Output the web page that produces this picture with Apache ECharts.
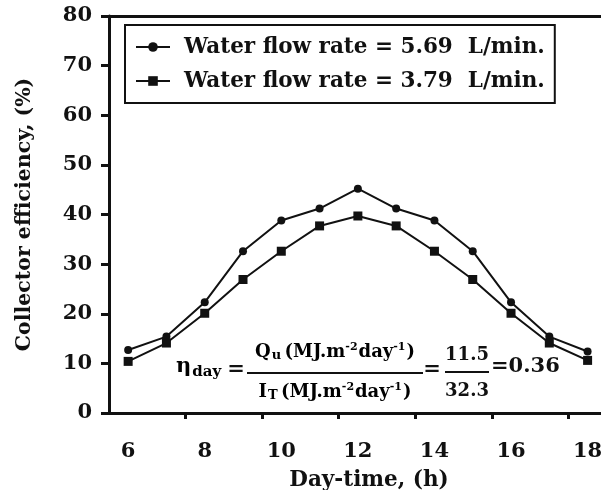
<!DOCTYPE html>
<html>
<head>
<meta charset="utf-8">
<script src="https://cdn.jsdelivr.net/npm/echarts@6/dist/echarts.min.js"></script>
<style>
  html, body { margin: 0; padding: 0; background: #fff; }
  #chart { width: 601px; height: 490px; }
</style>
</head>
<body>
<div id="chart"></div>
<script>
// Hourly collector efficiency (%) for two water flow rates
const hours = [6, 7, 8, 9, 10, 11, 12, 13, 14, 15, 16, 17, 18];
const effFlow569 = [12.7, 15.4, 22.3, 32.6, 38.8, 41.2, 45.2, 41.2, 38.8, 32.6, 22.3, 15.4, 12.4];
const effFlow379 = [10.4, 14.1, 20.1, 26.9, 32.6, 37.7, 39.7, 37.7, 32.6, 26.9, 20.1, 14.1, 10.6];
const seriesNames = ['Water flow rate = 5.69  L/min.', 'Water flow rate = 3.79  L/min.'];
const xLabelValues = [6, 8, 10, 12, 14, 16, 18];
const xTickValues = [7.5, 9.5, 11.5, 13.5, 15.5, 17.5];

const SERIF = "'DejaVu Serif', 'Liberation Serif', serif";
const chart = echarts.init(document.getElementById('chart'), null, { renderer: 'canvas' });

const pair = (ys) => hours.map((h, i) => [h, ys[i]]);

const sub = { fontSize: 13, fontWeight: 'bold', fontFamily: SERIF, color: '#111', verticalAlign: 'bottom', padding: [7, 0, 0, 1] };
const sup = { fontSize: 11, fontWeight: 'bold', fontFamily: SERIF, color: '#111', verticalAlign: 'top', padding: [0, 1, 8, 0] };
const main = { fontSize: 18, fontWeight: 'bold', fontFamily: SERIF, color: '#111' };
const fracRich = { m: main, sb: sub, sp: sup };

chart.setOption({
  animation: false,
  backgroundColor: '#fff',
  grid: { left: 109, right: 0, top: 16, bottom: 77, containLabel: false, outerBoundsMode: 'none' },
  legend: {
    orient: 'vertical',
    left: 125,
    top: 25,
    padding: [11, 10, 11, 10],
    itemGap: 12,
    itemWidth: 34,
    itemHeight: 12,
    borderColor: '#111',
    borderWidth: 2,
    backgroundColor: '#fff',
    textStyle: { fontFamily: SERIF, fontWeight: 'bold', fontSize: 21.5, color: '#111', padding: [0, 0, 0, 9] },
    data: seriesNames
  },
  xAxis: [
    {
      type: 'value',
      min: 5.5,
      max: 18.35,
      name: 'Day-time, (h)',
      nameLocation: 'middle',
      nameGap: 56,
      nameTextStyle: { fontFamily: SERIF, fontWeight: 'bold', fontSize: 21.5, color: '#111', padding: [0, 0, 0, 28] },
      axisLine: { lineStyle: { color: '#111', width: 3 } },
      axisTick: { show: true, length: 6, lineStyle: { color: '#111', width: 3 }, customValues: xTickValues },
      axisLabel: { customValues: xLabelValues, margin: 28, fontFamily: SERIF, fontWeight: 'bold', fontSize: 21, color: '#111' },
      splitLine: { show: false }
    },
    {
      type: 'value',
      position: 'top',
      min: 5.5,
      max: 18.35,
      axisLine: { show: true, lineStyle: { color: '#111', width: 3 } },
      axisTick: { show: false },
      axisLabel: { show: false },
      splitLine: { show: false }
    }
  ],
  yAxis: {
    type: 'value',
    min: 0,
    max: 80,
    interval: 10,
    name: 'Collector efficiency, (%)',
    nameLocation: 'middle',
    nameGap: 74,
    nameTextStyle: { fontFamily: SERIF, fontWeight: 'bold', fontSize: 20.5, color: '#111' },
    axisLine: { show: true, lineStyle: { color: '#111', width: 3 } },
    axisTick: { show: true, length: 8, lineStyle: { color: '#111', width: 3 } },
    axisLabel: { margin: 17, fontFamily: SERIF, fontWeight: 'bold', fontSize: 21, color: '#111' },
    splitLine: { show: false }
  },
  series: [
    {
      name: seriesNames[0],
      type: 'line',
      data: pair(effFlow569),
      symbol: 'circle',
      symbolSize: 8,
      lineStyle: { color: '#111', width: 2 },
      itemStyle: { color: '#111' },
      z: 3
    },
    {
      name: seriesNames[1],
      type: 'line',
      data: pair(effFlow379),
      symbol: 'rect',
      symbolSize: 9,
      lineStyle: { color: '#111', width: 2 },
      itemStyle: { color: '#111' },
      z: 3
    }
  ],
  graphic: [
    // daily efficiency relation drawn inside the plot area
    { type: 'text', x: 176, y: 367, style: { text: '{e|η}{s|day}', align: 'left', verticalAlign: 'middle',
      rich: { e: { fontSize: 21, fontWeight: 'bold', fontFamily: SERIF, color: '#111' },
              s: { fontSize: 15, fontWeight: 'bold', fontFamily: SERIF, color: '#111', verticalAlign: 'bottom', padding: [11, 0, 0, 1] } } } },
    { type: 'text', x: 236, y: 370, style: { text: '=', align: 'center', verticalAlign: 'middle', fontSize: 21, fontWeight: 'bold', fontFamily: SERIF, fill: '#111' } },
    { type: 'text', x: 335, y: 352, style: { text: '{m|Q}{sb|u} {m|(MJ.m}{sp|-2}{m|day}{sp|-1}{m|)}', align: 'center', verticalAlign: 'middle', rich: fracRich } },
    { type: 'line', shape: { x1: 247, y1: 373, x2: 423, y2: 373 }, style: { stroke: '#111', lineWidth: 2 } },
    { type: 'text', x: 335, y: 392, style: { text: '{m|I}{sb|T} {m|(MJ.m}{sp|-2}{m|day}{sp|-1}{m|)}', align: 'center', verticalAlign: 'middle', rich: fracRich } },
    { type: 'text', x: 432, y: 370, style: { text: '=', align: 'center', verticalAlign: 'middle', fontSize: 21, fontWeight: 'bold', fontFamily: SERIF, fill: '#111' } },
    { type: 'text', x: 467, y: 355, style: { text: '11.5', align: 'center', verticalAlign: 'middle', fontSize: 18, fontWeight: 'bold', fontFamily: SERIF, fill: '#111' } },
    { type: 'line', shape: { x1: 445, y1: 372, x2: 489, y2: 372 }, style: { stroke: '#111', lineWidth: 2 } },
    { type: 'text', x: 467, y: 391, style: { text: '32.3', align: 'center', verticalAlign: 'middle', fontSize: 18, fontWeight: 'bold', fontFamily: SERIF, fill: '#111' } },
    { type: 'text', x: 491, y: 367, style: { text: '=0.36', align: 'left', verticalAlign: 'middle', fontSize: 21, fontWeight: 'bold', fontFamily: SERIF, fill: '#111' } }
  ]
});
</script>
</body>
</html>
